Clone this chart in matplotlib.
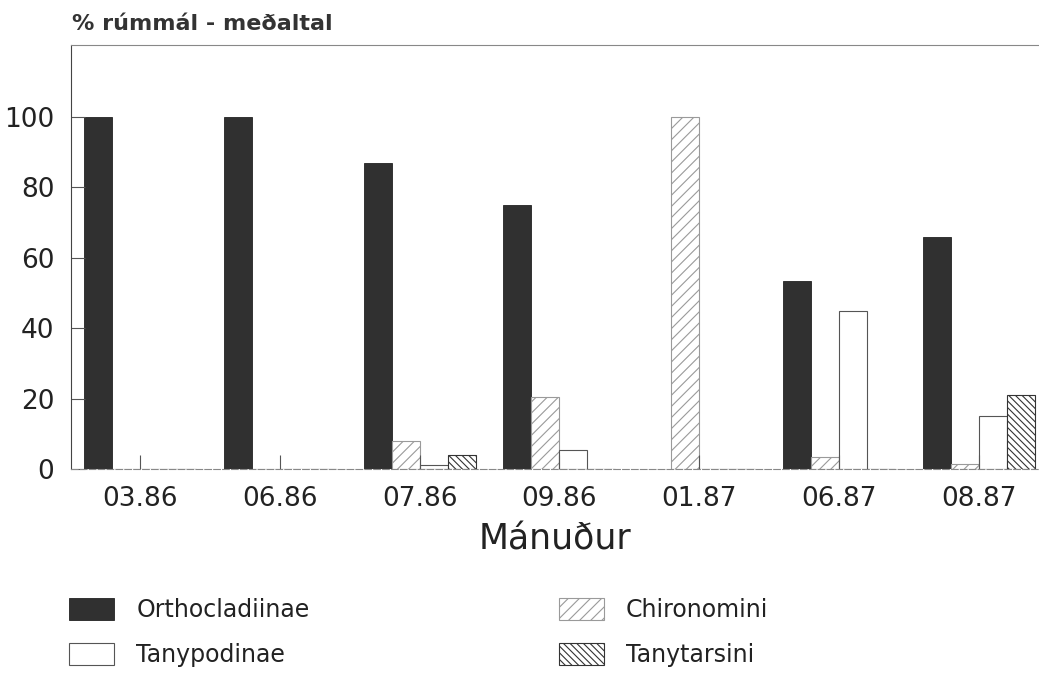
import numpy as np
import matplotlib
matplotlib.use("Agg")
import matplotlib.pyplot as plt

# gögn lesin af myndinni
manudir = ["03.86", "06.86", "07.86", "09.86", "01.87", "06.87", "08.87"]
orthocladiinae = [100, 100, 87, 75, 0, 53.5, 66]
chironomini = [0, 0, 8, 20.5, 100, 3.5, 1.5]
tanypodinae = [0, 0, 1, 5.5, 0, 45, 15]
tanytarsini = [0, 0, 4, 0, 0, 0, 21]

plt.rcParams['font.family'] = ['DejaVu Sans']
plt.rcParams['hatch.linewidth'] = 0.8

fig = plt.figure(figsize=(10.39, 6.75), dpi=100)
ax = fig.add_axes([71/1039, 1 - 469/675, 1 - 71/1039, (469 - 45)/675])

x = np.arange(len(manudir))
w = 0.2
ax.bar(x - 1.5*w, orthocladiinae, w, color='#303030', edgecolor='#222222', linewidth=0.6,
       label='Orthocladiinae')
ax.bar(x - 0.5*w, chironomini, w, color='white', edgecolor='#9a9a9a', hatch='///',
       linewidth=0.8, label='Chironomini')
ax.bar(x + 0.5*w, tanypodinae, w, color='white', edgecolor='#555555', linewidth=0.8,
       label='Tanypodinae')
ax.bar(x + 1.5*w, tanytarsini, w, color='white', edgecolor='#333333', hatch='\\\\\\\\\\',
       linewidth=0.8, label='Tanytarsini')

ax.set_xlim(-69/139.8, (1039 - 140)/139.8)
ax.set_ylim(0, 100 * 424/352)
ax.set_yticks([0, 20, 40, 60, 80, 100])
ax.set_xticks(x)
ax.set_xticklabels(manudir)
ax.tick_params(axis='both', direction='in', length=10, width=0.8, colors='#555555',
               labelsize=19, labelcolor='#222222', pad=12)

ax.spines['right'].set_visible(False)
ax.spines['left'].set_color('#444444')
ax.spines['top'].set_color('#888888')
ax.spines['top'].set_linewidth(0.8)
ax.spines['bottom'].set_color('#888888')
ax.spines['bottom'].set_linestyle((0, (6, 2)))
ax.spines['bottom'].set_linewidth(0.8)

ax.set_xlabel('Mánuður', fontsize=25, color='#222222', labelpad=8)

fig.text(72/1039, 1 - 30/675, '% rúmmál - meðaltal', fontsize=16, fontweight='bold',
         color='#333333', ha='left', va='baseline')

h, l = ax.get_legend_handles_labels()
order = [0, 2, 1, 3]
fig.legend([h[i] for i in order], [l[i] for i in order], ncol=2, frameon=False,
           loc='upper left', bbox_to_anchor=(69/1039, 1 - 598/675), fontsize=17,
           handlelength=1.9, handleheight=1.05, handletextpad=0.95, columnspacing=10.55,
           labelspacing=0.9, borderpad=0, borderaxespad=0, labelcolor='#222222')

fig.savefig('out.png', dpi=100)
